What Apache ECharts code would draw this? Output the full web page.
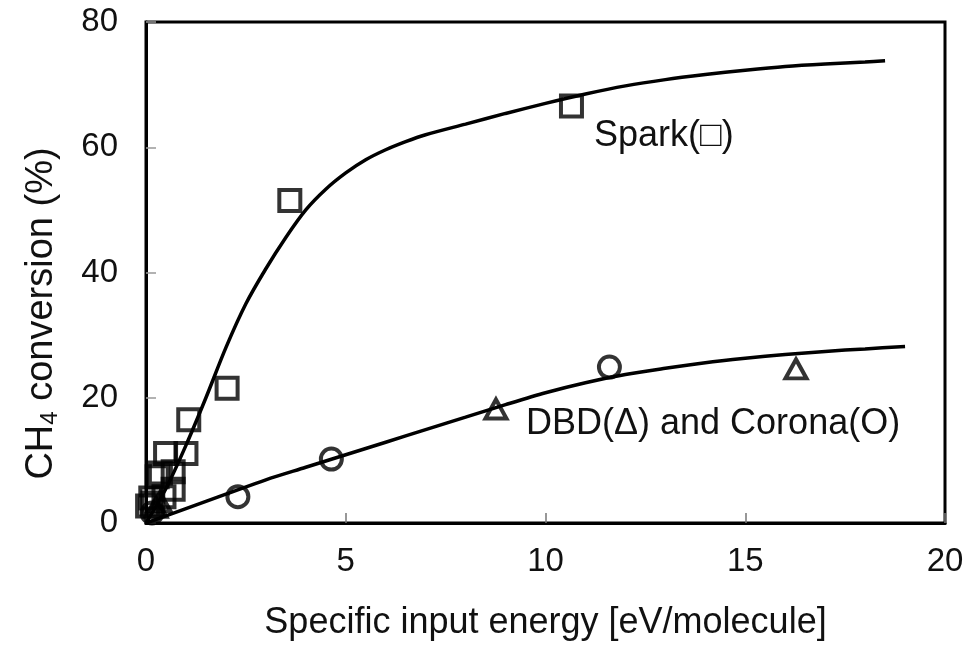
<!DOCTYPE html>
<html>
<head>
<meta charset="utf-8">
<script src="https://cdn.jsdelivr.net/npm/echarts@6/dist/echarts.min.js"></script>
<style>html,body{margin:0;padding:0;background:#fff}#c{width:972px;height:646px}</style>
</head>
<body>
<div id="c"></div>
<script>
// Data
const sparkPoints = [[0.04,2.7],[0.12,4.0],[0.17,3.2],[0.28,7.4],[0.36,8.0],[0.45,4.2],[0.68,5.4],[0.68,8.2],[0.49,11.1],[1.0,11.1],[1.07,16.5],[2.03,21.5],[3.6,51.5],[10.65,66.6]];
const dbdPoints = [[0.25,2.5],[0.35,3.4],[8.76,18.2],[16.27,24.6]];
const coronaPoints = [[0.15,1.6],[2.3,4.2],[4.64,10.2],[11.6,24.9]];
const sparkCurve = [[0,0],[0.5,5.5],[1.0,12.4],[1.5,20.0],[2.0,28.0],[2.5,35.0],[3.0,40.6],[3.5,45.6],[4.0,50.0],[4.5,53.3],[5.0,55.9],[5.5,58.0],[6.0,59.6],[6.5,60.9],[7.0,62.0],[8.0,63.7],[9.0,65.4],[10.0,67.0],[11.0,68.5],[12.0,69.8],[13.0,70.8],[14.0,71.6],[15.0,72.3],[16.0,72.9],[17.0,73.3],[18.0,73.6],[18.5,73.8]];
const lowerCurve = [[0,0],[1,2.3],[2,4.6],[3,6.9],[4,8.9],[5,10.9],[6,12.9],[7,14.9],[8,16.9],[9,18.9],[10,20.8],[11,22.4],[12,23.7],[13,24.7],[14,25.6],[15,26.3],[16,26.9],[17,27.4],[18,27.8],[19,28.2]];
const xTicks = {min:0, max:20, interval:5};
const yTicks = {min:0, max:80, interval:20};
const xName = 'Specific input energy [eV/molecule]';
const sparkLabel = 'Spark(□)';
const lowerLabel = 'DBD(Δ) and Corona(O)';

const FONT = '"Liberation Sans", Arial, Helvetica, sans-serif';
const chart = echarts.init(document.getElementById('c'), null, {renderer:'canvas'});
const hollow = {color:'rgba(0,0,0,0)', borderColor:'#000', borderWidth:4};
chart.setOption({
  animation:false,
  backgroundColor:'#fff',
  grid:{left:146, top:22, right:27, bottom:119, show:true, borderColor:'#000', borderWidth:3, backgroundColor:'transparent'},
  xAxis:{
    type:'value', min:xTicks.min, max:xTicks.max, interval:xTicks.interval,
    name:xName, nameLocation:'middle', nameGap:82,
    nameTextStyle:{fontFamily:FONT, fontSize:36, color:'#111'},
    axisLine:{show:true, onZero:false, lineStyle:{color:'#000', width:3}},
    axisTick:{show:true, inside:true, length:10, lineStyle:{color:'#777', width:1.5}},
    axisLabel:{fontFamily:FONT, fontSize:33, color:'#111', margin:22, showMinLabel:true, showMaxLabel:true},
    splitLine:{show:false}
  },
  yAxis:{
    type:'value', min:yTicks.min, max:yTicks.max, interval:yTicks.interval,
    name:'CH{sub|4} conversion (%)', nameLocation:'middle', nameGap:84,
    nameTextStyle:{fontFamily:FONT, fontSize:38, color:'#111', padding:[0,82,0,0],
      rich:{sub:{fontFamily:FONT, fontSize:24, color:'#111', verticalAlign:'bottom', padding:[16,0,0,0]}}},
    axisLine:{show:true, onZero:false, lineStyle:{color:'#000', width:3}},
    axisTick:{show:true, inside:true, length:10, lineStyle:{color:'#999', width:1.5}},
    axisLabel:{fontFamily:FONT, fontSize:33, color:'#111', margin:28},
    splitLine:{show:false}
  },
  series:[
    {type:'line', data:sparkCurve, smooth:0.3, showSymbol:false, lineStyle:{color:'#000', width:3.5}, z:2},
    {type:'line', data:lowerCurve, smooth:0.3, showSymbol:false, lineStyle:{color:'#000', width:3.5}, z:2},
    {type:'scatter', data:sparkPoints, symbol:'rect', symbolSize:21, itemStyle:hollow, z:3},
    {type:'scatter', data:dbdPoints, symbol:'triangle', symbolSize:[21,19], itemStyle:hollow, z:3},
    {type:'scatter', data:coronaPoints, symbol:'circle', symbolSize:21, itemStyle:hollow, z:3}
  ],
  graphic:[
    {type:'text', left:594, top:118, style:{text:sparkLabel, font:'36px ' + FONT, fill:'#111'}},
    {type:'text', left:526, top:406, style:{text:lowerLabel, font:'36px ' + FONT, fill:'#111'}}
  ]
});
</script>
</body>
</html>
